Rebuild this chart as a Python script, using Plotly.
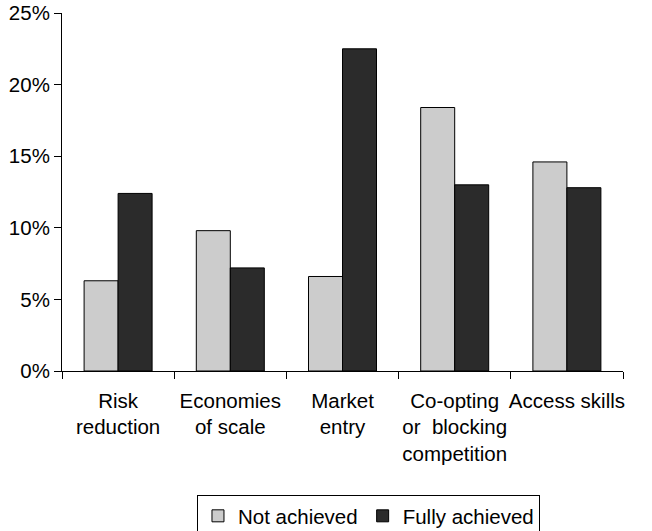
import plotly.graph_objects as go

categories = ["Risk<br>reduction", "Economies<br>of scale", "Market<br>entry",
              "Co-opting<br>or  blocking<br>competition", "Access skills"]
not_achieved = [6.3, 9.8, 6.6, 18.4, 14.6]
fully_achieved = [12.4, 7.2, 22.5, 13.0, 12.8]
y_ticks = [0, 5, 10, 15, 20, 25]
y_tick_labels = ["0%", "5%", "10%", "15%", "20%", "25%"]

fig = go.Figure()
fig.add_trace(go.Bar(x=categories, y=not_achieved, name="Not achieved",
                     marker=dict(color="#cccccc", line=dict(color="#000000", width=1))))
fig.add_trace(go.Bar(x=categories, y=fully_achieved, name="Fully achieved",
                     marker=dict(color="#2b2b2b", line=dict(color="#000000", width=1))))

fig.update_layout(
    width=652, height=531,
    margin=dict(l=62, r=29, t=13, b=160),
    paper_bgcolor="white", plot_bgcolor="white",
    font=dict(family="Liberation Sans, Arial, sans-serif", size=20.5, color="#000000"),
    barmode="group", bargap=0.394, bargroupgap=0,
    showlegend=True,
    legend=dict(orientation="h", xref="paper", x=0.2406,
                yref="container", y=1 - 495 / 531, xanchor="left", yanchor="top",
                bordercolor="#000000", borderwidth=1, font=dict(size=20.5),
                traceorder="normal"),
    xaxis=dict(showline=True, linecolor="#000000", linewidth=1,
               ticks="outside", tickson="boundaries", ticklen=7, tickcolor="#000000",
               showgrid=False, tickangle=0, ticklabelstandoff=11, automargin=False),
    yaxis=dict(range=[0, 25], tickvals=y_ticks, ticktext=y_tick_labels,
               showline=True, linecolor="#000000", linewidth=1,
               ticks="outside", ticklen=7, tickcolor="#000000",
               showgrid=False, zeroline=False, automargin=False),
)

fig.write_html("out.html")
